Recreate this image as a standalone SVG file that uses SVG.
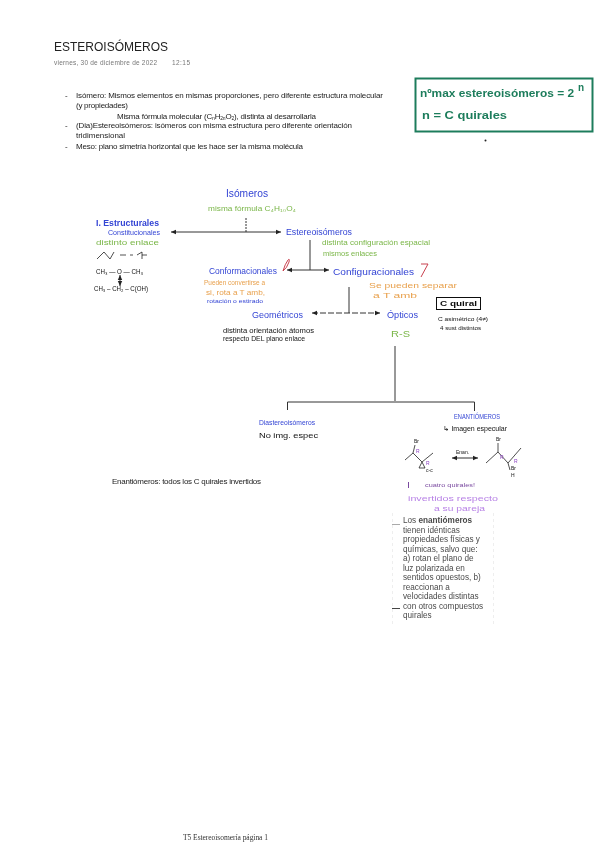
<svg xmlns="http://www.w3.org/2000/svg" width="600" height="848" viewBox="0 0 600 848">
<style>
text{font-family:"Liberation Sans",Arial,sans-serif;font-size:8px;fill:#111}
.note{font-size:8px;fill:#222}
.blue{fill:#3344d4;font-size:9px}
.big{font-size:10.5px}
.small{font-size:6.5px}
.green{fill:#7ab648;font-size:7.5px}
.orange{fill:#e8a04c;font-size:7px}
.ink{font-size:6.5px;fill:#111}
.pur{fill:#b883e6;font-size:8px}
.wiki{font-size:8.2px;fill:#4a4a4a}
.line{stroke:#333;stroke-width:1;fill:none}
.both{marker-start:url(#a);marker-end:url(#b)}
.mol{stroke:#222;stroke-width:.8;fill:none}
</style>
<defs>
<marker id="b" markerWidth="6" markerHeight="6" refX="5" refY="3" orient="auto"><path d="M0 .8L5 3L0 5.2z" fill="#222"/></marker>
<marker id="a" markerWidth="6" markerHeight="6" refX="1" refY="3" orient="auto"><path d="M6 .8L1 3L6 5.2z" fill="#222"/></marker>
<filter id="soft" x="-5%" y="-5%" width="110%" height="110%"><feGaussianBlur stdDeviation="0.3"/></filter>
</defs>
<rect width="600" height="848" fill="#fff"/>

<g id="header" filter="url(#soft)">
<text x="54" y="51" style="font-size:13px;fill:#222" textLength="114" lengthAdjust="spacingAndGlyphs">ESTEROISÓMEROS</text>
<text x="54" y="65" style="font-size:6.5px;fill:#777" textLength="103" lengthAdjust="spacing">viernes, 30 de diciembre de 2022</text>
<text x="172" y="65" style="font-size:6.5px;fill:#777" textLength="18" lengthAdjust="spacing">12:15</text>
</g>

<g id="notes" filter="url(#soft)">
<text class="note" x="65" y="98">-</text>
<text class="note" x="76" y="98" textLength="307" lengthAdjust="spacing">Isómero: Mismos elementos en mismas proporciones, pero diferente estructura molecular</text>
<text class="note" x="76" y="108" textLength="52" lengthAdjust="spacing">(y propiedades)</text>
<text class="note" x="117" y="119" textLength="199" lengthAdjust="spacing">Misma fórmula molecular (C<tspan dy="1" style="font-size:5px">n</tspan><tspan dy="-1">H</tspan><tspan dy="1" style="font-size:5px">2n</tspan><tspan dy="-1">O</tspan><tspan dy="1" style="font-size:5px">2</tspan><tspan dy="-1">), distinta al desarrollarla</tspan></text>
<text class="note" x="65" y="128">-</text>
<text class="note" x="76" y="128" textLength="276" lengthAdjust="spacing">(Dia)Estereoisómeros: isómeros con misma estructura pero diferente orientación</text>
<text class="note" x="76" y="138" textLength="49" lengthAdjust="spacing">tridimensional</text>
<text class="note" x="65" y="149">-</text>
<text class="note" x="76" y="149" textLength="227" lengthAdjust="spacing">Meso: plano simetría horizontal que les hace ser la misma molécula</text>
</g>

<g id="formula-box" filter="url(#soft)">
<rect x="415.500" y="78.500" width="177" height="53" fill="none" stroke="#1f7d5c" stroke-width="2"/>
<text x="420" y="97" style="font-size:11px;font-weight:bold;fill:#1f7d5c" textLength="154" lengthAdjust="spacingAndGlyphs">nºmax estereoisómeros = 2</text>
<text x="578" y="91" style="font-size:10px;font-weight:bold;fill:#1f7d5c">n</text>
<text x="422" y="119" style="font-size:11px;font-weight:bold;fill:#1f7d5c" textLength="85" lengthAdjust="spacingAndGlyphs">n = C quirales</text>
</g>
<circle id="dot" cx="485.500" cy="140.500" r="1" fill="#222"/>

<g id="connectors" filter="url(#soft)">
<path class="line" d="M246 218V232" stroke-dasharray="2 1"/>
<path class="line both" d="M171 232H281"/>
<path class="line" d="M310 240V270"/>
<path class="line both" d="M287 270H329"/>
<path class="line" d="M349 287V313"/>
<path class="line both" d="M312 313H380" stroke-dasharray="6 2"/>
<path class="line" d="M395 346V401"/>
<path class="line" d="M287.500 410V402H474.500V411"/>
<path class="line both" d="M120 275V286"/>
<path class="line both" d="M452 458H478"/>
</g>

<g id="isomeros" filter="url(#soft)">
<text class="blue big" x="226" y="197" textLength="42" lengthAdjust="spacingAndGlyphs">Isómeros</text>
<text class="green" x="208" y="211" textLength="88" lengthAdjust="spacingAndGlyphs">misma fórmula C₄H₁₀O₄</text>
</g>

<g id="estructurales" filter="url(#soft)">
<text class="blue" x="96" y="226" style="font-weight:bold" textLength="63" lengthAdjust="spacingAndGlyphs">I. Estructurales</text>
<text class="blue small" x="108" y="235" textLength="52" lengthAdjust="spacingAndGlyphs">Constitucionales</text>
<text class="green" x="96" y="245" style="font-size:7px" textLength="63" lengthAdjust="spacingAndGlyphs">distinto enlace</text>
<path class="mol" d="M97 259L104 252L110 259L114 252"/>
<path class="mol" d="M120 255H126M130 255H133M137 255L142 252M142 252V259M142 255L147 255"/>
<text class="ink" x="96" y="274" textLength="47" lengthAdjust="spacingAndGlyphs">CH₃ — O — CH₃</text>
<text class="ink" x="94" y="291" textLength="54" lengthAdjust="spacingAndGlyphs">CH₃ – CH₂ – C(OH)</text>
</g>

<g id="estereoisomeros" filter="url(#soft)">
<text class="blue" x="286" y="235" textLength="66" lengthAdjust="spacingAndGlyphs">Estereoisómeros</text>
<text class="green" x="322" y="245" textLength="108" lengthAdjust="spacingAndGlyphs">distinta configuración espacial</text>
<text class="green" x="323" y="256" textLength="54" lengthAdjust="spacingAndGlyphs">mismos enlaces</text>
</g>

<g id="conformacionales" filter="url(#soft)">
<text class="blue" x="209" y="274" textLength="68" lengthAdjust="spacingAndGlyphs">Conformacionales</text>
<path d="M283 271Q285 264 288 260Q290 258 289 262Q287 268 283 271Z" fill="none" stroke="#c8404e"/>
<text class="orange" x="204" y="285" textLength="61" lengthAdjust="spacingAndGlyphs">Pueden convertirse a</text>
<text class="orange" x="206" y="295" style="font-size:6.500px" textLength="59" lengthAdjust="spacingAndGlyphs">si, rota a T amb,</text>
<text class="blue small" x="207" y="303" style="font-size:6px" textLength="56" lengthAdjust="spacingAndGlyphs">rotación o estirado</text>
</g>

<g id="configuracionales" filter="url(#soft)">
<text class="blue" x="333" y="275" textLength="81" lengthAdjust="spacingAndGlyphs">Configuracionales</text>
<path d="M421 264H428L421 277" fill="none" stroke="#c8404e"/>
<text class="orange" x="369" y="288" style="font-size:8px" textLength="88" lengthAdjust="spacingAndGlyphs">Se pueden separar</text>
<text class="orange" x="373" y="298" style="font-size:8px" textLength="44" lengthAdjust="spacingAndGlyphs">a T amb</text>
</g>

<g id="c-quiral" filter="url(#soft)">
<rect x="436.500" y="297.500" width="44" height="12" fill="none" stroke="#111"/>
<text x="440" y="306" style="font-weight:bold;font-size:7.500px" textLength="37" lengthAdjust="spacingAndGlyphs">C quiral</text>
<text class="ink" x="438" y="321" style="font-size:5.500px" textLength="50" lengthAdjust="spacingAndGlyphs">C asimétrico (4≠)</text>
<text class="ink" x="440" y="330" style="font-size:5.500px" textLength="41" lengthAdjust="spacingAndGlyphs">4 sust distintos</text>
</g>

<g id="geometricos" filter="url(#soft)">
<text class="blue" x="252" y="318" textLength="51" lengthAdjust="spacingAndGlyphs">Geométricos</text>
<text class="ink" x="223" y="333" textLength="91" lengthAdjust="spacingAndGlyphs">distinta orientación átomos</text>
<text class="ink" x="223" y="341" textLength="82" lengthAdjust="spacingAndGlyphs">respecto DEL plano enlace</text>
</g>

<g id="opticos" filter="url(#soft)">
<text class="blue" x="387" y="318" textLength="31" lengthAdjust="spacingAndGlyphs">Ópticos</text>
<text class="green" x="391" y="337" style="font-size:9px" textLength="19" lengthAdjust="spacingAndGlyphs">R-S</text>
</g>

<g id="diastereoisomeros" filter="url(#soft)">
<text class="blue small" x="259" y="425" textLength="56" lengthAdjust="spacingAndGlyphs">Diastereoisómeros</text>
<text class="ink" x="259" y="438" style="font-size:7.500px" textLength="59" lengthAdjust="spacingAndGlyphs">No img. espec</text>
</g>

<g id="enantiomeros" filter="url(#soft)">
<text class="blue small" x="454" y="419" textLength="46" lengthAdjust="spacingAndGlyphs">ENANTIÓMEROS</text>
<text class="ink" x="443" y="431" textLength="64" lengthAdjust="spacingAndGlyphs">↳ Imagen especular</text>
<path class="mol" d="M405 460L413 453L422 462L433 453M413 453L415 445M422 462L419 468H425Z"/>
<path class="mol" d="M486 463L498 452L508 463L521 448M498 452V443M508 463L510 470"/>
<text x="414" y="443" style="font-size:5px">Br</text>
<text x="416" y="453" style="font-size:5px;fill:#8a3fc0">R</text>
<text x="426" y="465" style="font-size:5px;fill:#8a3fc0">R</text>
<text x="426" y="472" style="font-size:5px">c-c</text>
<text x="496" y="441" style="font-size:5px">Br</text>
<text x="500" y="459" style="font-size:5px;fill:#8a3fc0">R</text>
<text x="514" y="463" style="font-size:5px;fill:#8a3fc0">R</text>
<text x="511" y="470" style="font-size:5px">Br</text>
<text x="511" y="477" style="font-size:5px">H</text>
<text x="456" y="454" style="font-size:5px">Enan.</text>
<path d="M408.500 482V488" stroke="#7a4aa0" fill="none"/>
<text x="425" y="487" style="font-size:6px;fill:#7a4aa0" textLength="50" lengthAdjust="spacingAndGlyphs">cuatro quirales!</text>
<text class="pur" x="408" y="501" textLength="90" lengthAdjust="spacingAndGlyphs">invertidos respecto</text>
<text class="pur" x="434" y="511" textLength="51" lengthAdjust="spacingAndGlyphs">a su pareja</text>
</g>

<g id="enantiomeros-def" filter="url(#soft)">
<path d="M392.500 513V625M493.500 513V625" stroke="#eee" stroke-dasharray="3 3" fill="none"/>
<path d="M392 524.500H400" stroke="#aaa"/>
<path d="M392 608.500H400" stroke="#444"/>
<text class="wiki" x="403" y="523">Los <tspan style="font-weight:bold">enantiómeros</tspan></text>
<text class="wiki" x="403" y="532.500">tienen idénticas</text>
<text class="wiki" x="403" y="542">propiedades físicas y</text>
<text class="wiki" x="403" y="551.500">químicas, salvo que:</text>
<text class="wiki" x="403" y="561">a) rotan el plano de</text>
<text class="wiki" x="403" y="570.500">luz polarizada en</text>
<text class="wiki" x="403" y="580">sentidos opuestos, b)</text>
<text class="wiki" x="403" y="589.500">reaccionan a</text>
<text class="wiki" x="403" y="599">velocidades distintas</text>
<text class="wiki" x="403" y="608.500">con otros compuestos</text>
<text class="wiki" x="403" y="618">quirales</text>
</g>

<g id="enantio-note" filter="url(#soft)">
<text class="note" x="112" y="484" textLength="149" lengthAdjust="spacing">Enantiómeros: todos los C quirales invertidos</text>
</g>

<g id="footer" filter="url(#soft)">
<text x="183" y="840" style="font-family:'Liberation Serif',serif;font-size:7.500px;fill:#333" textLength="85" lengthAdjust="spacing">T5 Estereoisomería página 1</text>
</g>
</svg>
